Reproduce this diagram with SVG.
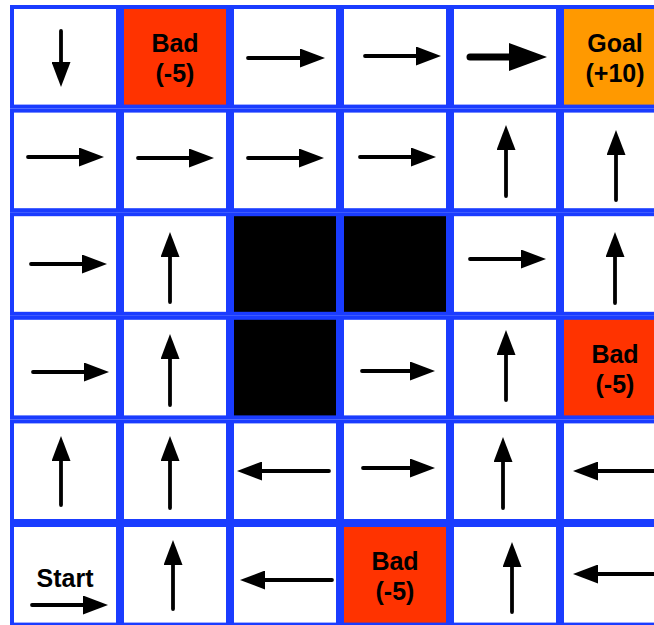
<svg xmlns="http://www.w3.org/2000/svg" width="654" height="625" viewBox="0 0 654 625">
<defs>
<style>
.cell{fill:#ffffff;stroke:#1a3cff;stroke-width:4}
.bad{fill:#ff3300}
.goal{fill:#ff9900}
.wall{fill:#000000}
.a{stroke:#000;stroke-width:3.8;stroke-linecap:round;fill:none;marker-end:url(#head)}
.ab{stroke:#000;stroke-width:7;stroke-linecap:round;fill:none;marker-end:url(#headB)}
.t{font-family:"Liberation Sans",Arial,Helvetica,sans-serif;font-weight:bold;font-size:25px;fill:#000;text-anchor:middle}
</style>
<marker id="head" markerUnits="userSpaceOnUse" markerWidth="25" markerHeight="19" refX="2" refY="9.5" orient="auto" viewBox="0 0 25 19"><path d="M0,0 L25,9.5 L0,19 z" fill="#000"/></marker>
<marker id="headB" markerUnits="userSpaceOnUse" markerWidth="38" markerHeight="28" refX="2" refY="14" orient="auto" viewBox="0 0 38 28"><path d="M0,0 L38,14 L0,28 z" fill="#000"/></marker>
</defs>
<rect width="654" height="625" fill="#ffffff"/>
<!-- Row 0 -->
<g id="c00"><rect class="cell" x="12" y="7" width="106" height="99.6"/><path class="a" d="M61,31 L61,64"/></g>
<g id="c01"><rect class="cell bad" x="122" y="7" width="106" height="99.6"/><text class="t" x="175" y="52">Bad</text><text class="t" x="175" y="82">(-5)</text></g>
<g id="c02"><rect class="cell" x="232" y="7" width="106" height="99.6"/><path class="a" d="M248,58 L302,58"/></g>
<g id="c03"><rect class="cell" x="342" y="7" width="106" height="99.6"/><path class="a" d="M365,56 L418,56"/></g>
<g id="c04"><rect class="cell" x="452" y="7" width="106" height="99.6"/><path class="ab" d="M470,57 L511,57"/></g>
<g id="c05"><rect class="cell goal" x="562" y="7" width="106" height="99.6"/><text class="t" x="615" y="52">Goal</text><text class="t" x="615" y="82">(+10)</text></g>
<!-- Row 1 -->
<g id="c10"><rect class="cell" x="12" y="110.6" width="106" height="99.6"/><path class="a" d="M28,157 L81,157"/></g>
<g id="c11"><rect class="cell" x="122" y="110.6" width="106" height="99.6"/><path class="a" d="M138,158 L191,158"/></g>
<g id="c12"><rect class="cell" x="232" y="110.6" width="106" height="99.6"/><path class="a" d="M248,158 L301,158"/></g>
<g id="c13"><rect class="cell" x="342" y="110.6" width="106" height="99.6"/><path class="a" d="M360,157 L413,157"/></g>
<g id="c14"><rect class="cell" x="452" y="110.6" width="106" height="99.6"/><path class="a" d="M506,196 L506,148"/></g>
<g id="c15"><rect class="cell" x="562" y="110.6" width="106" height="99.6"/><path class="a" d="M616,200 L616,153"/></g>
<!-- Row 2 -->
<g id="c20"><rect class="cell" x="12" y="214.2" width="106" height="99.6"/><path class="a" d="M31,264 L84,264"/></g>
<g id="c21"><rect class="cell" x="122" y="214.2" width="106" height="99.6"/><path class="a" d="M170,302 L170,255"/></g>
<g id="c22"><rect class="cell wall" x="232" y="214.2" width="106" height="99.6"/></g>
<g id="c23"><rect class="cell wall" x="342" y="214.2" width="106" height="99.6"/></g>
<g id="c24"><rect class="cell" x="452" y="214.2" width="106" height="99.6"/><path class="a" d="M470,259 L523,259"/></g>
<g id="c25"><rect class="cell" x="562" y="214.2" width="106" height="99.6"/><path class="a" d="M615,303 L615,255"/></g>
<!-- Row 3 -->
<g id="c30"><rect class="cell" x="12" y="317.8" width="106" height="99.6"/><path class="a" d="M33,372 L86,372"/></g>
<g id="c31"><rect class="cell" x="122" y="317.8" width="106" height="99.6"/><path class="a" d="M170,405 L170,357"/></g>
<g id="c32"><rect class="cell wall" x="232" y="317.8" width="106" height="99.6"/></g>
<g id="c33"><rect class="cell" x="342" y="317.8" width="106" height="99.6"/><path class="a" d="M362,371 L412,371"/></g>
<g id="c34"><rect class="cell" x="452" y="317.8" width="106" height="99.6"/><path class="a" d="M506,400 L506,353"/></g>
<g id="c35"><rect class="cell bad" x="562" y="317.8" width="106" height="99.6"/><text class="t" x="615" y="363">Bad</text><text class="t" x="615" y="393">(-5)</text></g>
<!-- Row 4 -->
<g id="c40"><rect class="cell" x="12" y="421.4" width="106" height="99.6"/><path class="a" d="M61,505 L61,459"/></g>
<g id="c41"><rect class="cell" x="122" y="421.4" width="106" height="99.6"/><path class="a" d="M170,508 L170,459"/></g>
<g id="c42"><rect class="cell" x="232" y="421.4" width="106" height="99.6"/><path class="a" d="M329,471 L260,471"/></g>
<g id="c43"><rect class="cell" x="342" y="421.4" width="106" height="99.6"/><path class="a" d="M363,468 L412,468"/></g>
<g id="c44"><rect class="cell" x="452" y="421.4" width="106" height="99.6"/><path class="a" d="M503,508 L503,460"/></g>
<g id="c45"><rect class="cell" x="562" y="421.4" width="106" height="99.6"/><path class="a" d="M660,471 L596,471"/></g>
<!-- Row 5 -->
<g id="c50"><rect class="cell" x="12" y="525" width="106" height="99.6"/><text class="t" x="65" y="587">Start</text><path class="a" d="M32,605 L85,605"/></g>
<g id="c51"><rect class="cell" x="122" y="525" width="106" height="99.6"/><path class="a" d="M173,609 L173,563"/></g>
<g id="c52"><rect class="cell" x="232" y="525" width="106" height="99.6"/><path class="a" d="M332,580 L263,580"/></g>
<g id="c53"><rect class="cell bad" x="342" y="525" width="106" height="99.6"/><text class="t" x="395" y="570">Bad</text><text class="t" x="395" y="600">(-5)</text></g>
<g id="c54"><rect class="cell" x="452" y="525" width="106" height="99.6"/><path class="a" d="M512,612 L512,565"/></g>
<g id="c55"><rect class="cell" x="562" y="525" width="106" height="99.6"/><path class="a" d="M660,574 L596,574"/></g>
<g id="connectors"/>
</svg>
